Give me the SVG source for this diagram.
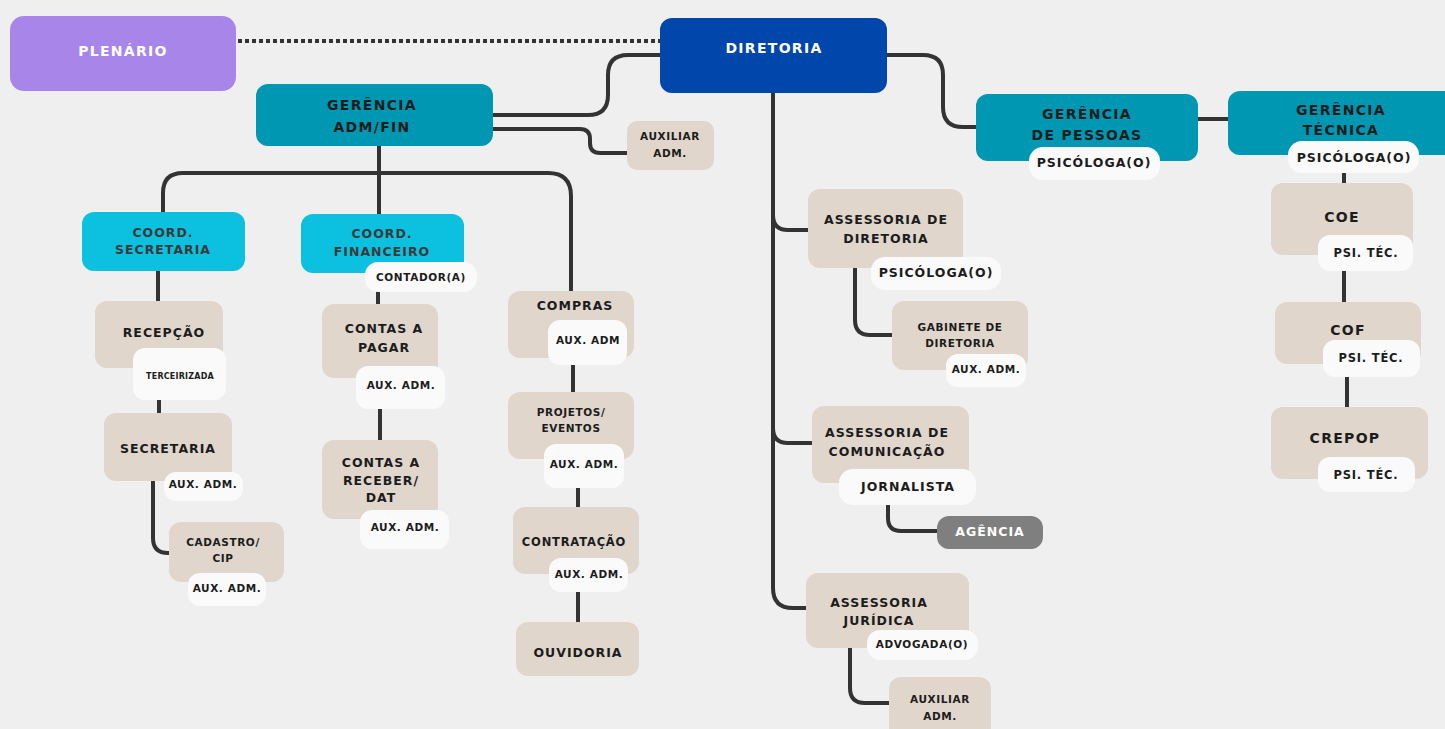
<svg xmlns="http://www.w3.org/2000/svg" width="1445" height="729" viewBox="0 0 1445 729">
<style>
text{font-family:"DejaVu Sans","Liberation Sans",sans-serif;font-weight:bold;text-anchor:middle;fill:#1c1c1c}
.w{fill:#ffffff}
.g{fill:#3a3a3a}
.t15{font-size:14px;letter-spacing:1.3px}
.t13{font-size:12.5px;letter-spacing:1px}
.t12{font-size:11.5px;letter-spacing:0.8px}
.t11{font-size:10.5px;letter-spacing:0.6px}
.t9{font-size:8px;letter-spacing:0.2px}
.teal{fill:#0097b2}
.cyan{fill:#0cc0df}
.beige{fill:#e0d6cc}
.pill{fill:#fafafa}
.con{fill:none;stroke:#333333;stroke-width:4;stroke-linecap:butt}
</style>
<rect width="1445" height="729" fill="#efefef"/>
<g id="connectors">
<line x1="238" y1="41" x2="660" y2="41" class="con" stroke-dasharray="4 3"/>
<path class="con" d="M660,55 H628 Q608,55 608,75 V95 Q608,115 588,115 H493"/>
<path class="con" d="M493,129 H580 Q590,129 590,139 V143 Q590,153 600,153 H627"/>
<path class="con" d="M887,55 H923 Q943,55 943,75 V107 Q943,127 963,127 H976"/>
<path class="con" d="M1198,119 H1228"/>
<path class="con" d="M773,93 V588 Q773,608 793,608 H806"/>
<path class="con" d="M773,205 V215 Q773,230 788,230 H808"/>
<path class="con" d="M773,400 V428 Q773,443 788,443 H812"/>
<path class="con" d="M379,146 V214"/>
<path class="con" d="M163,212 V193 Q163,173 183,173 H548 Q571,173 571,196 V292"/>
<path class="con" d="M158,271 V301"/>
<path class="con" d="M159,398 V413"/>
<path class="con" d="M153,481 V538 Q153,553 168,553 H170"/>
<path class="con" d="M378,290 V304"/>
<path class="con" d="M380,409 V440"/>
<path class="con" d="M573,362 V392"/>
<path class="con" d="M578,486 V507"/>
<path class="con" d="M578,590 V622"/>
<path class="con" d="M855,268 V320 Q855,335 870,335 H892"/>
<path class="con" d="M888,503 V518 Q888,531 901,531 H937"/>
<path class="con" d="M850,648 V688 Q850,703 865,703 H889"/>
<path class="con" d="M1344,171 V183"/>
<path class="con" d="M1344,269 V302"/>
<path class="con" d="M1347,375 V407"/>
</g>
<g id="plenario">
<rect x="10" y="16" width="226" height="75" rx="14" fill="#a886e9"/>
<text x="123" y="56" class="t15 w">PLENÁRIO</text>
</g>
<g id="diretoria">
<rect x="660" y="18" width="227" height="75" rx="12" fill="#0046ab"/>
<text x="774" y="53" class="t15 w">DIRETORIA</text>
</g>
<g id="gerencia-admfin">
<rect x="256" y="84" width="237" height="62" rx="12" class="teal"/>
<text x="372" y="110" class="t15">GERÊNCIA</text>
<text x="372" y="132" class="t15">ADM/FIN</text>
</g>
<g id="auxiliar-adm-top">
<rect x="627" y="121" width="87" height="49" rx="10" class="beige"/>
<text x="670" y="140" class="t11">AUXILIAR</text>
<text x="670" y="157" class="t11">ADM.</text>
</g>
<g id="gerencia-pessoas">
<rect x="976" y="94" width="222" height="67" rx="12" class="teal"/>
<text x="1087" y="119" class="t15">GERÊNCIA</text>
<text x="1087" y="140" class="t15">DE PESSOAS</text>
<rect x="1029" y="147" width="131" height="33" rx="14" class="pill"/>
<text x="1094" y="167" class="t13">PSICÓLOGA(O)</text>
</g>
<g id="gerencia-tecnica">
<rect x="1228" y="91" width="230" height="64" rx="12" class="teal"/>
<text x="1341" y="115" class="t15">GERÊNCIA</text>
<text x="1341" y="135" class="t15">TÉCNICA</text>
<rect x="1288" y="141" width="131" height="32" rx="14" class="pill"/>
<text x="1354" y="162" class="t13">PSICÓLOGA(O)</text>
</g>
<g id="coe">
<rect x="1271" y="183" width="142" height="72" rx="12" class="beige"/>
<text x="1342" y="222" class="t15">COE</text>
<rect x="1318" y="235" width="95" height="36" rx="12" class="pill"/>
<text x="1366" y="257" class="t12">PSI. TÉC.</text>
</g>
<g id="cof">
<rect x="1275" y="302" width="146" height="62" rx="12" class="beige"/>
<text x="1348" y="335" class="t15">COF</text>
<rect x="1323" y="340" width="97" height="37" rx="12" class="pill"/>
<text x="1371" y="362" class="t12">PSI. TÉC.</text>
</g>
<g id="crepop">
<rect x="1271" y="407" width="157" height="72" rx="12" class="beige"/>
<text x="1345" y="443" class="t15">CREPOP</text>
<rect x="1318" y="457" width="97" height="35" rx="12" class="pill"/>
<text x="1366" y="479" class="t12">PSI. TÉC.</text>
</g>
<g id="coord-secretaria">
<rect x="82" y="212" width="163" height="59" rx="12" class="cyan"/>
<text x="163" y="237" class="t13 g">COORD.</text>
<text x="163" y="254" class="t13 g">SECRETARIA</text>
</g>
<g id="coord-financeiro">
<rect x="301" y="214" width="163" height="59" rx="12" class="cyan"/>
<text x="382" y="238" class="t13 g">COORD.</text>
<text x="382" y="256" class="t13 g">FINANCEIRO</text>
<rect x="365" y="262" width="112" height="30" rx="13" class="pill"/>
<text x="421" y="281" class="t11">CONTADOR(A)</text>
</g>
<g id="recepcao">
<rect x="95" y="301" width="128" height="67" rx="12" class="beige"/>
<text x="164" y="337" class="t13">RECEPÇÃO</text>
<rect x="133" y="348" width="93" height="52" rx="12" class="pill"/>
<text x="180" y="379" class="t9">TERCEIRIZADA</text>
</g>
<g id="secretaria">
<rect x="104" y="413" width="128" height="68" rx="12" class="beige"/>
<text x="168" y="453" class="t13">SECRETARIA</text>
<rect x="164" y="472" width="79" height="29" rx="12" class="pill"/>
<text x="203" y="488" class="t11">AUX. ADM.</text>
</g>
<g id="cadastro-cip">
<rect x="169" y="522" width="115" height="60" rx="12" class="beige"/>
<text x="223" y="546" class="t11">CADASTRO/</text>
<text x="223" y="562" class="t11">CIP</text>
<rect x="188" y="573" width="78" height="33" rx="12" class="pill"/>
<text x="227" y="592" class="t11">AUX. ADM.</text>
</g>
<g id="contas-pagar">
<rect x="322" y="304" width="116" height="74" rx="12" class="beige"/>
<text x="384" y="333" class="t13">CONTAS A</text>
<text x="384" y="352" class="t13">PAGAR</text>
<rect x="356" y="366" width="89" height="43" rx="12" class="pill"/>
<text x="401" y="389" class="t11">AUX. ADM.</text>
</g>
<g id="contas-receber">
<rect x="322" y="440" width="116" height="79" rx="12" class="beige"/>
<text x="381" y="467" class="t13">CONTAS A</text>
<text x="381" y="485" class="t13">RECEBER/</text>
<text x="381" y="502" class="t13">DAT</text>
<rect x="360" y="510" width="89" height="39" rx="12" class="pill"/>
<text x="405" y="531" class="t11">AUX. ADM.</text>
</g>
<g id="compras">
<rect x="508" y="291" width="126" height="67" rx="12" class="beige"/>
<text x="575" y="310" class="t13">COMPRAS</text>
<rect x="548" y="320" width="79" height="45" rx="12" class="pill"/>
<text x="588" y="344" class="t11">AUX. ADM</text>
</g>
<g id="projetos-eventos">
<rect x="508" y="392" width="126" height="67" rx="12" class="beige"/>
<text x="571" y="416" class="t11">PROJETOS/</text>
<text x="571" y="432" class="t11">EVENTOS</text>
<rect x="544" y="444" width="80" height="44" rx="12" class="pill"/>
<text x="584" y="468" class="t11">AUX. ADM.</text>
</g>
<g id="contratacao">
<rect x="513" y="507" width="126" height="67" rx="12" class="beige"/>
<text x="574" y="546" class="t12">CONTRATAÇÃO</text>
<rect x="549" y="558" width="79" height="34" rx="12" class="pill"/>
<text x="589" y="578" class="t11">AUX. ADM.</text>
</g>
<g id="ouvidoria">
<rect x="516" y="622" width="123" height="54" rx="12" class="beige"/>
<text x="578" y="657" class="t13">OUVIDORIA</text>
</g>
<g id="assessoria-diretoria">
<rect x="808" y="189" width="155" height="79" rx="12" class="beige"/>
<text x="886" y="224" class="t13">ASSESSORIA DE</text>
<text x="886" y="243" class="t13">DIRETORIA</text>
<rect x="871" y="257" width="130" height="33" rx="14" class="pill"/>
<text x="936" y="277" class="t13">PSICÓLOGA(O)</text>
</g>
<g id="gabinete-diretoria">
<rect x="892" y="301" width="136" height="69" rx="12" class="beige"/>
<text x="960" y="331" class="t11">GABINETE DE</text>
<text x="960" y="347" class="t11">DIRETORIA</text>
<rect x="946" y="354" width="80" height="33" rx="12" class="pill"/>
<text x="986" y="373" class="t11">AUX. ADM.</text>
</g>
<g id="assessoria-comunicacao">
<rect x="812" y="406" width="157" height="77" rx="12" class="beige"/>
<text x="887" y="437" class="t13">ASSESSORIA DE</text>
<text x="887" y="456" class="t13">COMUNICAÇÃO</text>
<rect x="839" y="469" width="137" height="36" rx="14" class="pill"/>
<text x="908" y="491" class="t13">JORNALISTA</text>
</g>
<g id="agencia">
<rect x="937" y="516" width="106" height="33" rx="12" fill="#7f7f7f"/>
<text x="990" y="536" class="t13 w">AGÊNCIA</text>
</g>
<g id="assessoria-juridica">
<rect x="806" y="573" width="163" height="75" rx="12" class="beige"/>
<text x="879" y="607" class="t13">ASSESSORIA</text>
<text x="879" y="625" class="t13">JURÍDICA</text>
<rect x="867" y="630" width="111" height="30" rx="13" class="pill"/>
<text x="922" y="648" class="t11">ADVOGADA(O)</text>
</g>
<g id="auxiliar-adm-juridica">
<rect x="889" y="677" width="102" height="64" rx="12" class="beige"/>
<text x="940" y="703" class="t11">AUXILIAR</text>
<text x="940" y="720" class="t11">ADM.</text>
</g>
</svg>
